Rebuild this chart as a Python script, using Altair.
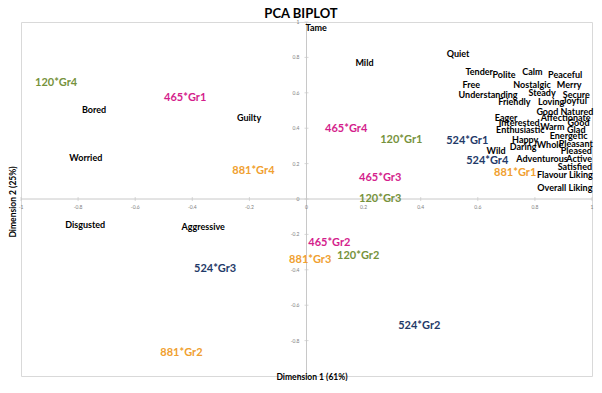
import altair as alt
import pandas as pd

# Attribute (variable) labels
attr_names = ["Tame", "Mild", "Quiet", "Tender", "Polite", "Calm", "Peaceful", "Free",
              "Nostalgic", "Merry", "Understanding", "Steady", "Secure", "Friendly",
              "Loving", "Joyful", "Good Natured", "Eager", "Affectionate", "Interested",
              "Good", "Warm", "Enthusiastic", "Glad", "Energetic", "Happy", "Wild",
              "Daring", "Whole", "Pleasant", "Pleased", "Adventurous", "Active",
              "Satisfied", "Flavour Liking", "Overall Liking",
              "Bored", "Worried", "Guilty", "Disgusted", "Aggressive"]
attr_x = [0.034, 0.203, 0.531, 0.605, 0.692, 0.791, 0.906, 0.577,
          0.790, 0.920, 0.636, 0.825, 0.945, 0.728,
          0.857, 0.940, 0.905, 0.699, 0.908, 0.745,
          0.953, 0.861, 0.749, 0.945, 0.918, 0.766, 0.664,
          0.759, 0.853, 0.943, 0.945, 0.825, 0.955,
          0.940, 0.905, 0.905,
          -0.744, -0.773, -0.201, -0.775, -0.362]
attr_y = [0.968, 0.770, 0.821, 0.719, 0.702, 0.719, 0.702, 0.646,
          0.646, 0.646, 0.585, 0.600, 0.585, 0.546,
          0.550, 0.553, 0.493, 0.459, 0.459, 0.431,
          0.431, 0.409, 0.392, 0.392, 0.358, 0.335, 0.273,
          0.296, 0.307, 0.312, 0.273, 0.228, 0.228,
          0.182, 0.137, 0.064,
          0.505, 0.233, 0.459, -0.145, -0.156]

# Product*Group observation labels
obs_names = ["120*Gr4", "465*Gr1", "881*Gr4", "524*Gr3", "881*Gr2", "465*Gr4",
             "120*Gr1", "465*Gr3", "120*Gr3", "465*Gr2", "881*Gr3", "120*Gr2",
             "524*Gr2", "524*Gr1", "524*Gr4", "881*Gr1"]
obs_x = [-0.877, -0.425, -0.186, -0.320, -0.438, 0.139,
         0.332, 0.258, 0.258, 0.080, 0.013, 0.181,
         0.395, 0.563, 0.633, 0.731]
obs_y = [0.657, 0.572, 0.160, -0.394, -0.868, 0.397,
         0.334, 0.120, 0.000, -0.247, -0.343, -0.324,
         -0.716, 0.330, 0.217, 0.148]
obs_product = [n.split("*")[0] for n in obs_names]
products = ["120", "465", "524", "881"]
product_colors = ["#76923C", "#D41E8C", "#1F3A68", "#F0A030"]

tick_values = [-1, -0.8, -0.6, -0.4, -0.2, 0, 0.2, 0.4, 0.6, 0.8, 1]
tick_labels = ["-1", "-0.8", "-0.6", "-0.4", "-0.2", "0", "0.2", "0.4", "0.6", "0.8", "1"]

attr_df = pd.DataFrame({"name": attr_names, "x": attr_x, "y": attr_y})
obs_df = pd.DataFrame({"name": obs_names, "x": obs_x, "y": obs_y, "product": obs_product})
ticks_df = pd.DataFrame({"v": tick_values, "label": tick_labels, "zero": [0] * len(tick_values)})

FONT = "Lato"
xs = alt.Scale(domain=[-1, 1], nice=False, zero=False)
ys = alt.Scale(domain=[-1, 1], nice=False, zero=False)

axis_color = "#c8c8c8"

hline = alt.Chart(pd.DataFrame({"a": [-1], "b": [1], "z": [0]})).mark_rule(
    color=axis_color, strokeWidth=1).encode(
    x=alt.X("a:Q", scale=xs, axis=None), x2="b:Q", y=alt.Y("z:Q", scale=ys, axis=None))
vline = alt.Chart(pd.DataFrame({"a": [-1], "b": [1], "z": [0]})).mark_rule(
    color=axis_color, strokeWidth=1).encode(
    y=alt.Y("a:Q", scale=ys, axis=None), y2="b:Q", x=alt.X("z:Q", scale=xs, axis=None))

xticks = alt.Chart(ticks_df).mark_tick(orient="vertical", size=4, thickness=1, color=axis_color).encode(
    x=alt.X("v:Q", scale=xs, axis=None), y=alt.Y("zero:Q", scale=ys, axis=None))
yticks = alt.Chart(ticks_df).mark_tick(orient="horizontal", size=4, thickness=1, color=axis_color).encode(
    y=alt.Y("v:Q", scale=ys, axis=None), x=alt.X("zero:Q", scale=xs, axis=None))

xlabels = alt.Chart(ticks_df).mark_text(fontSize=5, color="#808080", dy=8, font=FONT).encode(
    x=alt.X("v:Q", scale=xs, axis=None), y=alt.Y("zero:Q", scale=ys, axis=None), text="label:N")
ylabels = alt.Chart(ticks_df).mark_text(fontSize=5, color="#808080", dx=-7, align="right", font=FONT).encode(
    y=alt.Y("v:Q", scale=ys, axis=None), x=alt.X("zero:Q", scale=xs, axis=None), text="label:N")

attr_text = alt.Chart(attr_df).mark_text(fontSize=9, fontWeight="bold", color="#000000", font=FONT).encode(
    x=alt.X("x:Q", scale=xs, axis=None), y=alt.Y("y:Q", scale=ys, axis=None), text="name:N")

obs_text = alt.Chart(obs_df).mark_text(fontSize=11, fontWeight="bold", font=FONT).encode(
    x=alt.X("x:Q", scale=xs, axis=None), y=alt.Y("y:Q", scale=ys, axis=None), text="name:N",
    color=alt.Color("product:N", scale=alt.Scale(domain=products, range=product_colors), legend=None))

title_df = pd.DataFrame({"t": ["PCA BIPLOT"]})
title = alt.Chart(title_df).mark_text(fontSize=13, fontWeight="bold", color="#000000", font=FONT,
                                      baseline="alphabetic").encode(
    x=alt.value(280), y=alt.value(-4), text="t:N")
xtitle = alt.Chart(pd.DataFrame({"t": ["Dimension 1 (61%)"]})).mark_text(
    fontSize=8.5, fontWeight="bold", color="#000000", font=FONT).encode(
    x=alt.value(291), y=alt.value(355), text="t:N")
ytitle = alt.Chart(pd.DataFrame({"t": ["Dimension 2 (25%)"]})).mark_text(
    fontSize=8.5, fontWeight="bold", color="#000000", font=FONT, angle=270).encode(
    x=alt.value(-8), y=alt.value(180), text="t:N")

chart = alt.layer(hline, vline, xticks, yticks, xlabels, ylabels, attr_text, obs_text,
                  title, xtitle, ytitle).properties(
    width=571, height=354,
    autosize=alt.AutoSizeParams(type="none"),
    padding={"left": 13, "top": 14, "right": 2, "bottom": 5},
    background="white",
).configure_view(stroke="#d9d9d9")

chart.save("out.html", embed_options={"renderer": "svg", "actions": False})
